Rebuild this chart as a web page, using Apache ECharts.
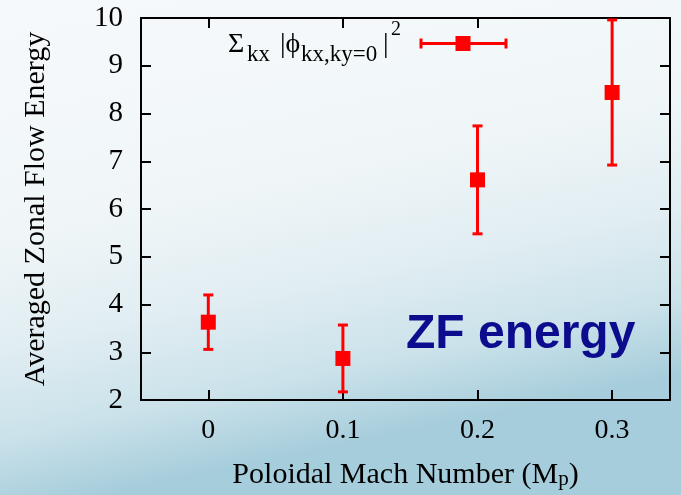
<!DOCTYPE html>
<html>
<head>
<meta charset="utf-8">
<script src="https://cdn.jsdelivr.net/npm/echarts@6/dist/echarts.min.js"></script>
<style>
  html, body { margin: 0; padding: 0; }
  #chart { width: 681px; height: 495px; }
</style>
</head>
<body>
<div id="chart"></div>
<script>
// values
const mach = [0, 0.1, 0.2, 0.3];
const energy = [3.63, 2.87, 6.61, 8.44];
const errLow = [3.06, 2.17, 5.48, 6.92];
const errHigh = [4.20, 3.57, 7.74, 9.96];
const xTicks = [0, 0.1, 0.2, 0.3];

const serif = '"Liberation Serif", "Times New Roman", serif';
const red = '#ff0000';

const chart = echarts.init(document.getElementById('chart'));

function errorBar(params, api) {
  const x = api.value(0);
  const top = api.coord([x, api.value(2)]);
  const bot = api.coord([x, api.value(1)]);
  const hw = 5;
  const style = { stroke: red, lineWidth: 3 };
  return {
    type: 'group',
    children: [
      { type: 'line', shape: { x1: top[0], y1: top[1], x2: bot[0], y2: bot[1] }, style },
      { type: 'line', shape: { x1: top[0] - hw, y1: top[1], x2: top[0] + hw, y2: top[1] }, style },
      { type: 'line', shape: { x1: bot[0] - hw, y1: bot[1], x2: bot[0] + hw, y2: bot[1] }, style }
    ]
  };
}

const axisLine = { show: true, onZero: false, lineStyle: { color: '#000', width: 2 } };
const tick = { show: true, inside: true, length: 10, lineStyle: { color: '#000', width: 2 } };

chart.setOption({
  backgroundColor: {
    type: 'linear', x: 0, y: 0, x2: 0.15, y2: 1,
    colorStops: [
      { offset: 0, color: '#f6f9fb' },
      { offset: 0.45, color: '#f0f6f8' },
      { offset: 0.68, color: '#e0edf2' },
      { offset: 0.85, color: '#cbe2ea' },
      { offset: 1, color: '#a6cddb' }
    ]
  },
  animation: false,
  grid: { left: 141, right: 11, top: 18, bottom: 95, outerBoundsMode: 'none' },
  xAxis: [
    {
      type: 'value', min: -0.05, max: 0.343, position: 'bottom',
      axisLine, splitLine: { show: false },
      axisTick: Object.assign({ customValues: xTicks }, tick),
      axisLabel: { customValues: xTicks, margin: 17, fontFamily: serif, fontSize: 28, color: '#000' },
      name: '{a|Poloidal Mach Number (M}{s|p}{a|)}',
      nameLocation: 'middle', nameGap: 60,
      nameTextStyle: {
        rich: {
          a: { fontFamily: serif, fontSize: 30, color: '#000', lineHeight: 30 },
          s: { fontFamily: serif, fontSize: 21, color: '#000', lineHeight: 21, verticalAlign: 'bottom' }
        }
      }
    },
    {
      type: 'value', min: -0.05, max: 0.343, position: 'top',
      axisLine, splitLine: { show: false },
      axisTick: Object.assign({ customValues: xTicks }, tick),
      axisLabel: { show: false }
    }
  ],
  yAxis: [
    {
      type: 'value', min: 2, max: 10, interval: 1, position: 'left',
      axisLine, splitLine: { show: false }, axisTick: tick,
      axisLabel: { margin: 18, fontFamily: serif, fontSize: 29, color: '#000' },
      name: 'Averaged Zonal Flow Energy',
      nameLocation: 'middle', nameGap: 90,
      nameTextStyle: { fontFamily: serif, fontSize: 30, color: '#000' }
    },
    {
      type: 'value', min: 2, max: 10, interval: 1, position: 'right',
      axisLine, splitLine: { show: false }, axisTick: tick,
      axisLabel: { show: false }
    }
  ],
  series: [
    {
      type: 'custom',
      renderItem: errorBar,
      clip: false,
      data: mach.map((m, i) => [m, errLow[i], errHigh[i]]),
      z: 2
    },
    {
      type: 'scatter',
      symbol: 'rect',
      symbolSize: 15,
      itemStyle: { color: red, opacity: 1 },
      data: mach.map((m, i) => [m, energy[i]]),
      z: 3
    }
  ],
  graphic: [
    { type: 'text', x: 228, y: 44.5, style: { text: 'Σ', font: '28px ' + serif, fill: '#000', verticalAlign: 'middle' } },
    { type: 'text', x: 247, y: 55, style: { text: 'kx', font: '23px ' + serif, fill: '#000', verticalAlign: 'middle' } },
    { type: 'text', x: 280, y: 44.5, style: { text: '|ϕ', font: '28px ' + serif, fill: '#000', verticalAlign: 'middle' } },
    { type: 'text', x: 301, y: 55, style: { text: 'kx,ky=0', font: '23px ' + serif, fill: '#000', verticalAlign: 'middle' } },
    { type: 'text', x: 383, y: 44.5, style: { text: '|', font: '28px ' + serif, fill: '#000', verticalAlign: 'middle' } },
    { type: 'text', x: 391, y: 30, style: { text: '2', font: '20px ' + serif, fill: '#000', verticalAlign: 'middle' } },
    { type: 'line', shape: { x1: 421, y1: 43.5, x2: 506, y2: 43.5 }, style: { stroke: red, lineWidth: 3 } },
    { type: 'line', shape: { x1: 421, y1: 38.5, x2: 421, y2: 48.5 }, style: { stroke: red, lineWidth: 3 } },
    { type: 'line', shape: { x1: 506, y1: 38.5, x2: 506, y2: 48.5 }, style: { stroke: red, lineWidth: 3 } },
    { type: 'rect', shape: { x: 455.5, y: 36, width: 15, height: 15 }, style: { fill: red } },
    { type: 'text', x: 406, y: 335, style: { text: 'ZF energy', font: 'bold 48px "Liberation Sans", Arial, sans-serif', fill: '#0c0c8e', verticalAlign: 'middle' } }
  ]
});
</script>
</body>
</html>
